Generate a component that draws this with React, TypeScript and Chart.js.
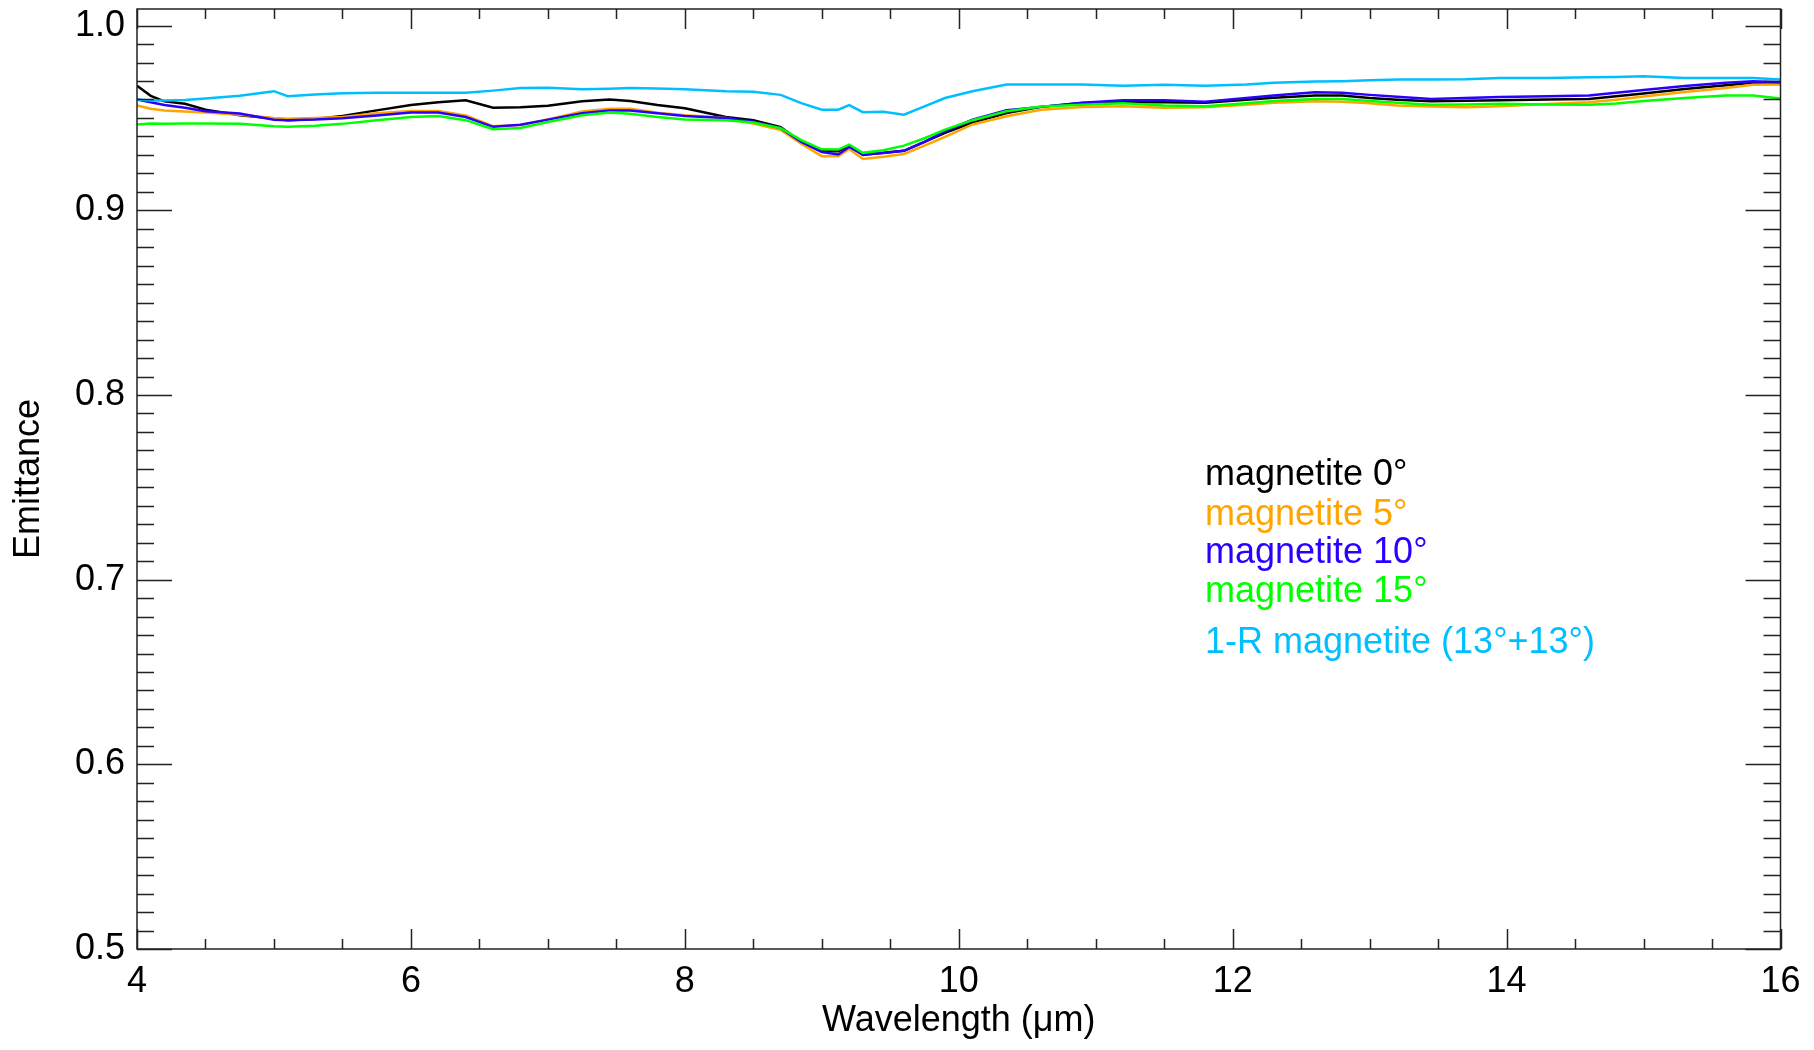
import React, { useEffect, useRef } from "react";
import { Chart, registerables } from "chart.js";

Chart.register(...registerables);

// Wavelength grid (µm)
const wavelength = [
  4.0, 4.1, 4.2, 4.35, 4.5, 4.75, 5.0, 5.1, 5.3, 5.5, 5.75, 6.0, 6.2, 6.4, 6.6, 6.8, 7.0, 7.25, 7.45, 7.6,
  7.8, 8.0, 8.3, 8.5, 8.7, 8.85, 9.0, 9.12, 9.2, 9.3, 9.45, 9.6, 9.75, 9.9, 10.1, 10.35, 10.6, 10.9, 11.2, 11.5,
  11.8, 12.1, 12.3, 12.6, 12.8, 13.0, 13.2, 13.45, 13.7, 13.95, 14.3, 14.6, 14.8, 15.0, 15.3, 15.6, 15.8, 16.0,
];

const magnetite0 = [
  0.9675, 0.962, 0.959, 0.9577, 0.9545, 0.9515, 0.9497, 0.9488, 0.9495, 0.9511, 0.9541, 0.957, 0.9585, 0.9596, 0.9555, 0.9558, 0.9566, 0.959, 0.96, 0.9592,
  0.957, 0.9553, 0.9505, 0.9488, 0.945, 0.937, 0.932, 0.932, 0.935, 0.93, 0.9312, 0.9322, 0.937, 0.9419, 0.9475, 0.9527, 0.956, 0.9581, 0.9585, 0.9585,
  0.9583, 0.9598, 0.961, 0.9621, 0.9621, 0.9608, 0.9599, 0.959, 0.9593, 0.9596, 0.96, 0.9603, 0.9617, 0.9632, 0.9657, 0.9677, 0.969, 0.9686,
];

const magnetite5 = [
  0.9568, 0.955, 0.9541, 0.9535, 0.9529, 0.9518, 0.95, 0.9496, 0.95, 0.9505, 0.9525, 0.9538, 0.9538, 0.9514, 0.9455, 0.9462, 0.9492, 0.9535, 0.955, 0.955,
  0.9528, 0.9515, 0.95, 0.947, 0.9435, 0.936, 0.9293, 0.9293, 0.9332, 0.9278, 0.929, 0.9305, 0.935, 0.9397, 0.9465, 0.9509, 0.9545, 0.956, 0.9563, 0.9555,
  0.9558, 0.9572, 0.9582, 0.959, 0.9588, 0.958, 0.9567, 0.9562, 0.9558, 0.9563, 0.9575, 0.9585, 0.9599, 0.9616, 0.9641, 0.9662, 0.968, 0.9681,
];

const magnetite10 = [
  0.96, 0.9585, 0.957, 0.9555, 0.9536, 0.9524, 0.949, 0.9488, 0.9491, 0.9498, 0.9513, 0.9529, 0.9529, 0.9505, 0.9452, 0.9463, 0.9491, 0.9525, 0.9541, 0.954,
  0.9525, 0.951, 0.95, 0.948, 0.9445, 0.937, 0.9315, 0.9302, 0.9343, 0.9302, 0.931, 0.9322, 0.937, 0.9428, 0.949, 0.9542, 0.956, 0.9583, 0.9596, 0.9596,
  0.9588, 0.9608, 0.9622, 0.9639, 0.9636, 0.9625, 0.9615, 0.9603, 0.9608, 0.9614, 0.9618, 0.9621, 0.9636, 0.9652, 0.9673, 0.969, 0.9699, 0.9693,
];

const magnetite15 = [
  0.9465, 0.947, 0.9468, 0.947, 0.947, 0.9468, 0.9455, 0.9452, 0.9458, 0.9468, 0.9488, 0.9505, 0.951, 0.9488, 0.9439, 0.9446, 0.9478, 0.9515, 0.9529, 0.9523,
  0.9505, 0.9492, 0.9488, 0.9475, 0.9445, 0.938, 0.933, 0.9329, 0.9356, 0.9311, 0.9325, 0.935, 0.939, 0.9437, 0.9488, 0.9536, 0.9562, 0.9572, 0.958, 0.9567,
  0.9563, 0.958, 0.9592, 0.9603, 0.9603, 0.9592, 0.9582, 0.9572, 0.9573, 0.9577, 0.9573, 0.9572, 0.9578, 0.9592, 0.9608, 0.9621, 0.9621, 0.9605,
];

const oneMinusR = [
  0.96, 0.9595, 0.9595, 0.9597, 0.9605, 0.962, 0.9645, 0.9618, 0.9627, 0.9634, 0.9636, 0.9636, 0.9636, 0.9637, 0.9648, 0.9662, 0.9663, 0.9655, 0.9658, 0.9662,
  0.966, 0.9655, 0.9645, 0.9642, 0.9625, 0.958, 0.9545, 0.9545, 0.9569, 0.9531, 0.9533, 0.9518, 0.9563, 0.9608, 0.9645, 0.9681, 0.9681, 0.9681, 0.9675, 0.968,
  0.9675, 0.9681, 0.969, 0.9697, 0.9699, 0.9704, 0.9708, 0.9708, 0.971, 0.9717, 0.9717, 0.972, 0.9722, 0.9726, 0.9717, 0.9717, 0.9717, 0.9708,
];

const seriesLabels = [
  "magnetite 0°",
  "magnetite 5°",
  "magnetite 10°",
  "magnetite 15°",
  "1-R magnetite (13°+13°)",
];
const seriesColors = ["#000000", "#FFA500", "#2A00FF", "#00FF00", "#00BFFF"];
const seriesValues = [magnetite0, magnetite5, magnetite10, magnetite15, oneMinusR];

const xTicks = [4, 6, 8, 10, 12, 14, 16];
const yTicks = [0.5, 0.6, 0.7, 0.8, 0.9, 1.0];

const FONT = "'Liberation Sans', Arial, sans-serif";

const framePlugin = {
  id: "idlFrame",
  afterDatasetsDraw(chart: any) {
    const { ctx, chartArea, scales } = chart;
    const { left, right, top, bottom } = chartArea;
    const x = scales.x;
    const y = scales.y;
    ctx.save();
    ctx.strokeStyle = "#222";
    ctx.lineWidth = 1.5;
    ctx.beginPath();
    // x ticks (major every 2, minor every 0.5)
    for (let i = 0; i <= 24; i++) {
      const v = 4 + i * 0.5;
      const px = Math.round(x.getPixelForValue(v)) + 0.5;
      const len = i % 4 === 0 ? 20 : 10;
      ctx.moveTo(px, bottom);
      ctx.lineTo(px, bottom - len);
      ctx.moveTo(px, top);
      ctx.lineTo(px, top + len);
    }
    // y ticks (major every 0.1, minor every 0.01)
    for (let i = 0; i <= 50; i++) {
      const v = 0.5 + i * 0.01;
      const py = Math.round(y.getPixelForValue(v)) + 0.5;
      const len = i % 10 === 0 ? 35 : 17;
      ctx.moveTo(left, py);
      ctx.lineTo(left + len, py);
      ctx.moveTo(right, py);
      ctx.lineTo(right - len, py);
    }
    ctx.stroke();
    ctx.strokeRect(left, top, right - left, bottom - top);

    // in-plot legend (coloured text)
    ctx.font = `36px ${FONT}`;
    ctx.textAlign = "left";
    ctx.textBaseline = "alphabetic";
    const baselines = [476, 516, 554, 593, 644];
    seriesLabels.forEach((label, i) => {
      ctx.fillStyle = seriesColors[i];
      ctx.fillText(label, left + 1068, top + baselines[i]);
    });
    ctx.restore();
  },
};

export default function App() {
  const canvasRef = useRef<HTMLCanvasElement | null>(null);

  useEffect(() => {
    document.body.style.margin = "0";
    const canvas = canvasRef.current;
    if (!canvas) return;
    const datasets = seriesValues.map((vals, i) => ({
      label: seriesLabels[i],
      data: wavelength.map((w, j) => ({ x: w, y: vals[j] })),
      borderColor: seriesColors[i],
      backgroundColor: seriesColors[i],
      borderWidth: 2.5,
      pointRadius: 0,
      tension: 0,
      fill: false,
      order: i === 4 ? 0 : 5 - i,
    }));

    const chart = new Chart(canvas, {
      type: "line",
      data: { datasets },
      options: {
        animation: false,
        responsive: false,
        devicePixelRatio: 1,
        layout: { padding: { top: 9, right: 33.5, left: 0, bottom: 0 } },
        plugins: { legend: { display: false }, tooltip: { enabled: false } },
        scales: {
          x: {
            type: "linear",
            min: 4,
            max: 16,
            position: "bottom",
            grid: { display: false, drawTicks: false },
            border: { display: false },
            afterBuildTicks: (s: any) => {
              s.ticks = xTicks.map((v) => ({ value: v }));
            },
            afterFit: (s: any) => {
              s.height = 101;
              s.paddingLeft = 0;
              s.paddingRight = 0;
              s.paddingTop = 0;
              s.paddingBottom = 0;
            },
            ticks: {
              font: { family: FONT, size: 36 },
              color: "#000",
              padding: 11,
              maxRotation: 0,
              autoSkip: false,
              callback: (v: any) => String(v),
            },
            title: {
              display: true,
              text: "Wavelength (μm)",
              font: { family: FONT, size: 36 },
              color: "#000",
              padding: { top: 0, bottom: 7 },
            },
          },
          y: {
            type: "linear",
            min: 0.5,
            max: 1.009,
            grid: { display: false, drawTicks: false },
            border: { display: false },
            afterBuildTicks: (s: any) => {
              s.ticks = yTicks.map((v) => ({ value: v }));
            },
            afterFit: (s: any) => {
              s.width = 137;
              s.paddingLeft = 0;
              s.paddingRight = 0;
              s.paddingTop = 0;
              s.paddingBottom = 0;
            },
            ticks: {
              font: { family: FONT, size: 36 },
              color: "#000",
              padding: 12,
              autoSkip: false,
              callback: (v: any) => Number(v).toFixed(1),
            },
            title: {
              display: true,
              text: "Emittance",
              font: { family: FONT, size: 36 },
              color: "#000",
              padding: { top: 7, bottom: 0 },
            },
          },
        },
      },
      plugins: [framePlugin],
    } as any);

    return () => {
      chart.destroy();
    };
  }, []);

  return (
    <div style={{ width: 1814, height: 1050, background: "#fff" }}>
      <canvas ref={canvasRef} width={1814} height={1050} style={{ display: "block" }} />
    </div>
  );
}
